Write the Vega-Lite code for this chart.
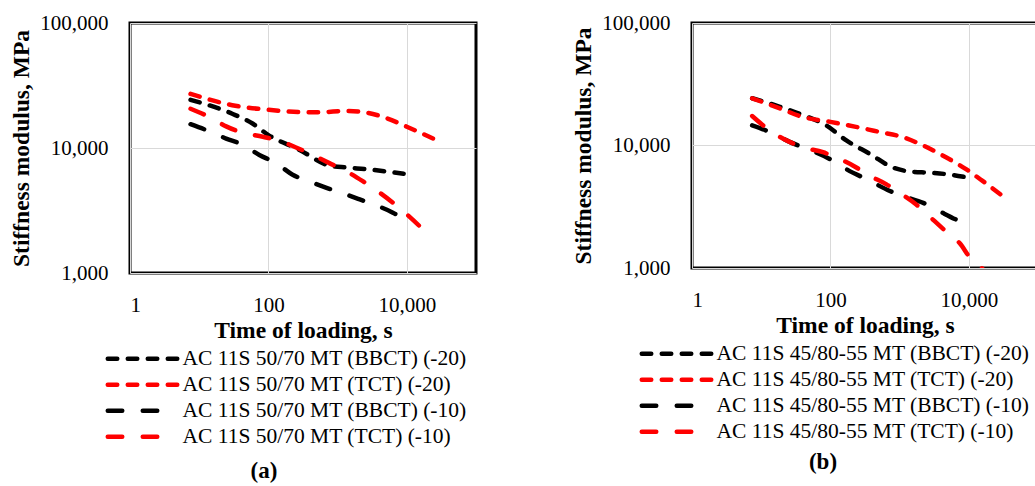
{
  "$schema": "https://vega.github.io/schema/vega-lite/v6.json",
  "padding": {"left": 8, "top": 10, "right": 0, "bottom": 0},
  "spacing": 92,
  "config": {
    "font": "Liberation Serif",
    "view": {"stroke": "black", "strokeWidth": 3},
    "axis": {
      "labelFont": "Liberation Serif", "labelFontSize": 21, "labelColor": "black",
      "titleFont": "Liberation Serif", "titleFontSize": 23.5, "titleFontWeight": "bold", "titleColor": "black",
      "ticks": false, "domain": false, "gridColor": "#d9d9d9", "gridWidth": 1
    },
    "axisX": {"labelPadding": 21, "titlePadding": 3},
    "axisY": {"labelPadding": 22, "titlePadding": 6},
    "legend": {
      "labelFont": "Liberation Serif", "labelFontSize": 21.5, "labelColor": "black", "labelLimit": 500,
      "symbolStrokeWidth": 4.5, "rowPadding": 3
    },
    "title": {"font": "Liberation Serif", "fontSize": 23, "fontWeight": "bold", "color": "black"}
  },
  "datasets": {
    "a": [
      {"s": "AC 11S 50/70 MT (BBCT) (-20)", "t": 7.5, "E": 24300},
      {"s": "AC 11S 50/70 MT (BBCT) (-20)", "t": 30, "E": 18800},
      {"s": "AC 11S 50/70 MT (BBCT) (-20)", "t": 59, "E": 15700},
      {"s": "AC 11S 50/70 MT (BBCT) (-20)", "t": 100, "E": 12700},
      {"s": "AC 11S 50/70 MT (BBCT) (-20)", "t": 282, "E": 9650},
      {"s": "AC 11S 50/70 MT (BBCT) (-20)", "t": 760, "E": 7240},
      {"s": "AC 11S 50/70 MT (BBCT) (-20)", "t": 1340, "E": 6980},
      {"s": "AC 11S 50/70 MT (BBCT) (-20)", "t": 2630, "E": 6770},
      {"s": "AC 11S 50/70 MT (BBCT) (-20)", "t": 9000, "E": 6220},
      {"s": "AC 11S 50/70 MT (TCT) (-20)", "t": 7.5, "E": 27100},
      {"s": "AC 11S 50/70 MT (TCT) (-20)", "t": 30, "E": 22000},
      {"s": "AC 11S 50/70 MT (TCT) (-20)", "t": 100, "E": 20200},
      {"s": "AC 11S 50/70 MT (TCT) (-20)", "t": 282, "E": 19400},
      {"s": "AC 11S 50/70 MT (TCT) (-20)", "t": 550, "E": 19300},
      {"s": "AC 11S 50/70 MT (TCT) (-20)", "t": 1340, "E": 19800},
      {"s": "AC 11S 50/70 MT (TCT) (-20)", "t": 2600, "E": 19200},
      {"s": "AC 11S 50/70 MT (TCT) (-20)", "t": 4570, "E": 17700},
      {"s": "AC 11S 50/70 MT (TCT) (-20)", "t": 10000, "E": 14800},
      {"s": "AC 11S 50/70 MT (TCT) (-20)", "t": 24000, "E": 11900},
      {"s": "AC 11S 50/70 MT (BBCT) (-10)", "t": 7.5, "E": 15500},
      {"s": "AC 11S 50/70 MT (BBCT) (-10)", "t": 14, "E": 13600},
      {"s": "AC 11S 50/70 MT (BBCT) (-10)", "t": 24.5, "E": 11900},
      {"s": "AC 11S 50/70 MT (BBCT) (-10)", "t": 43, "E": 10600},
      {"s": "AC 11S 50/70 MT (BBCT) (-10)", "t": 74, "E": 8800},
      {"s": "AC 11S 50/70 MT (BBCT) (-10)", "t": 129, "E": 7570},
      {"s": "AC 11S 50/70 MT (BBCT) (-10)", "t": 224, "E": 6110},
      {"s": "AC 11S 50/70 MT (BBCT) (-10)", "t": 389, "E": 5400},
      {"s": "AC 11S 50/70 MT (BBCT) (-10)", "t": 692, "E": 4800},
      {"s": "AC 11S 50/70 MT (BBCT) (-10)", "t": 1200, "E": 4330},
      {"s": "AC 11S 50/70 MT (BBCT) (-10)", "t": 2090, "E": 3880},
      {"s": "AC 11S 50/70 MT (BBCT) (-10)", "t": 3630, "E": 3470},
      {"s": "AC 11S 50/70 MT (BBCT) (-10)", "t": 6300, "E": 3040},
      {"s": "AC 11S 50/70 MT (BBCT) (-10)", "t": 10000, "E": 2610},
      {"s": "AC 11S 50/70 MT (TCT) (-10)", "t": 7.5, "E": 20600},
      {"s": "AC 11S 50/70 MT (TCT) (-10)", "t": 14, "E": 17700},
      {"s": "AC 11S 50/70 MT (TCT) (-10)", "t": 24.5, "E": 14900},
      {"s": "AC 11S 50/70 MT (TCT) (-10)", "t": 38, "E": 13500},
      {"s": "AC 11S 50/70 MT (TCT) (-10)", "t": 83, "E": 12300},
      {"s": "AC 11S 50/70 MT (TCT) (-10)", "t": 145, "E": 11400},
      {"s": "AC 11S 50/70 MT (TCT) (-10)", "t": 251, "E": 10100},
      {"s": "AC 11S 50/70 MT (TCT) (-10)", "t": 437, "E": 8800},
      {"s": "AC 11S 50/70 MT (TCT) (-10)", "t": 760, "E": 7570},
      {"s": "AC 11S 50/70 MT (TCT) (-10)", "t": 1350, "E": 6500},
      {"s": "AC 11S 50/70 MT (TCT) (-10)", "t": 2340, "E": 5400},
      {"s": "AC 11S 50/70 MT (TCT) (-10)", "t": 3800, "E": 4510},
      {"s": "AC 11S 50/70 MT (TCT) (-10)", "t": 6300, "E": 3650},
      {"s": "AC 11S 50/70 MT (TCT) (-10)", "t": 10000, "E": 2950},
      {"s": "AC 11S 50/70 MT (TCT) (-10)", "t": 24000, "E": 1850}
    ],
    "b": [
      {"s": "AC 11S 45/80-55 MT (BBCT) (-20)", "t": 7.4, "E": 24300},
      {"s": "AC 11S 45/80-55 MT (BBCT) (-20)", "t": 18.6, "E": 20700},
      {"s": "AC 11S 45/80-55 MT (BBCT) (-20)", "t": 40, "E": 17700},
      {"s": "AC 11S 45/80-55 MT (BBCT) (-20)", "t": 87, "E": 14600},
      {"s": "AC 11S 45/80-55 MT (BBCT) (-20)", "t": 170, "E": 11000},
      {"s": "AC 11S 45/80-55 MT (BBCT) (-20)", "t": 372, "E": 8540},
      {"s": "AC 11S 45/80-55 MT (BBCT) (-20)", "t": 794, "E": 6620},
      {"s": "AC 11S 45/80-55 MT (BBCT) (-20)", "t": 1380, "E": 6140},
      {"s": "AC 11S 45/80-55 MT (BBCT) (-20)", "t": 2690, "E": 5990},
      {"s": "AC 11S 45/80-55 MT (BBCT) (-20)", "t": 4680, "E": 5840},
      {"s": "AC 11S 45/80-55 MT (BBCT) (-20)", "t": 8500, "E": 5550},
      {"s": "AC 11S 45/80-55 MT (TCT) (-20)", "t": 7.4, "E": 24300},
      {"s": "AC 11S 45/80-55 MT (TCT) (-20)", "t": 18.6, "E": 20100},
      {"s": "AC 11S 45/80-55 MT (TCT) (-20)", "t": 40, "E": 17100},
      {"s": "AC 11S 45/80-55 MT (TCT) (-20)", "t": 100, "E": 15600},
      {"s": "AC 11S 45/80-55 MT (TCT) (-20)", "t": 234, "E": 14200},
      {"s": "AC 11S 45/80-55 MT (TCT) (-20)", "t": 513, "E": 12900},
      {"s": "AC 11S 45/80-55 MT (TCT) (-20)", "t": 1120, "E": 11700},
      {"s": "AC 11S 45/80-55 MT (TCT) (-20)", "t": 2190, "E": 10000},
      {"s": "AC 11S 45/80-55 MT (TCT) (-20)", "t": 4680, "E": 8010},
      {"s": "AC 11S 45/80-55 MT (TCT) (-20)", "t": 9120, "E": 6410},
      {"s": "AC 11S 45/80-55 MT (TCT) (-20)", "t": 15800, "E": 5140},
      {"s": "AC 11S 45/80-55 MT (TCT) (-20)", "t": 29500, "E": 3940},
      {"s": "AC 11S 45/80-55 MT (BBCT) (-10)", "t": 7.4, "E": 14600},
      {"s": "AC 11S 45/80-55 MT (BBCT) (-10)", "t": 13.2, "E": 12900},
      {"s": "AC 11S 45/80-55 MT (BBCT) (-10)", "t": 25.7, "E": 10700},
      {"s": "AC 11S 45/80-55 MT (BBCT) (-10)", "t": 40, "E": 9680},
      {"s": "AC 11S 45/80-55 MT (BBCT) (-10)", "t": 98, "E": 7760},
      {"s": "AC 11S 45/80-55 MT (BBCT) (-10)", "t": 170, "E": 6410},
      {"s": "AC 11S 45/80-55 MT (BBCT) (-10)", "t": 372, "E": 5140},
      {"s": "AC 11S 45/80-55 MT (BBCT) (-10)", "t": 724, "E": 4250},
      {"s": "AC 11S 45/80-55 MT (BBCT) (-10)", "t": 1120, "E": 3860},
      {"s": "AC 11S 45/80-55 MT (BBCT) (-10)", "t": 2190, "E": 3400},
      {"s": "AC 11S 45/80-55 MT (BBCT) (-10)", "t": 3800, "E": 2900},
      {"s": "AC 11S 45/80-55 MT (BBCT) (-10)", "t": 6600, "E": 2480},
      {"s": "AC 11S 45/80-55 MT (BBCT) (-10)", "t": 10200, "E": 2220},
      {"s": "AC 11S 45/80-55 MT (TCT) (-10)", "t": 7.4, "E": 17400},
      {"s": "AC 11S 45/80-55 MT (TCT) (-10)", "t": 13.2, "E": 13300},
      {"s": "AC 11S 45/80-55 MT (TCT) (-10)", "t": 25.7, "E": 10700},
      {"s": "AC 11S 45/80-55 MT (TCT) (-10)", "t": 40, "E": 9680},
      {"s": "AC 11S 45/80-55 MT (TCT) (-10)", "t": 78, "E": 8810},
      {"s": "AC 11S 45/80-55 MT (TCT) (-10)", "t": 120, "E": 8010},
      {"s": "AC 11S 45/80-55 MT (TCT) (-10)", "t": 214, "E": 6840},
      {"s": "AC 11S 45/80-55 MT (TCT) (-10)", "t": 372, "E": 5650},
      {"s": "AC 11S 45/80-55 MT (TCT) (-10)", "t": 646, "E": 4820},
      {"s": "AC 11S 45/80-55 MT (TCT) (-10)", "t": 1000, "E": 4110},
      {"s": "AC 11S 45/80-55 MT (TCT) (-10)", "t": 1740, "E": 3300},
      {"s": "AC 11S 45/80-55 MT (TCT) (-10)", "t": 2690, "E": 2640},
      {"s": "AC 11S 45/80-55 MT (TCT) (-10)", "t": 4680, "E": 1990},
      {"s": "AC 11S 45/80-55 MT (TCT) (-10)", "t": 7410, "E": 1590},
      {"s": "AC 11S 45/80-55 MT (TCT) (-10)", "t": 10700, "E": 1190},
      {"s": "AC 11S 45/80-55 MT (TCT) (-10)", "t": 15800, "E": 985},
      {"s": "AC 11S 45/80-55 MT (TCT) (-10)", "t": 29500, "E": 700}
    ]
  },
  "hconcat": [
    {
      "width": 346, "height": 250,
      "data": {"name": "a"},
      "title": {"text": "(a)", "orient": "bottom", "dx": -39, "offset": 12},
      "mark": {"type": "line", "interpolate": "monotone", "strokeWidth": 4.5, "strokeCap": "round", "clip": true},
      "encoding": {
        "x": {"field": "t", "type": "quantitative", "scale": {"type": "log", "domain": [1, 100000], "nice": false},
              "axis": {"values": [1, 100, 10000], "format": ",", "title": "Time of loading, s"}},
        "y": {"field": "E", "type": "quantitative", "scale": {"type": "log", "domain": [1000, 100000], "nice": false},
              "axis": {"values": [1000, 10000, 100000], "format": ",", "title": "Stiffness modulus, MPa"}},
        "color": {"field": "s", "type": "nominal",
          "scale": {"domain": ["AC 11S 50/70 MT (BBCT) (-20)", "AC 11S 50/70 MT (TCT) (-20)", "AC 11S 50/70 MT (BBCT) (-10)", "AC 11S 50/70 MT (TCT) (-10)"],
                    "range": ["#000000", "#ff0000", "#000000", "#ff0000"]},
          "legend": {"title": null, "orient": "none", "legendX": -28, "legendY": 325, "symbolType": "M-1,0H13", "symbolSize": 100, "labelOffset": 59,
                     "encode": {"symbols": {"update": {"strokeCap": {"value": "round"}, "fill": {"value": "transparent"}}}}}},
        "strokeDash": {"field": "s", "type": "nominal",
          "scale": {"domain": ["AC 11S 50/70 MT (BBCT) (-20)", "AC 11S 50/70 MT (TCT) (-20)", "AC 11S 50/70 MT (BBCT) (-10)", "AC 11S 50/70 MT (TCT) (-10)"],
                    "range": [[9.5, 10.5], [9.5, 10.5], [14.5, 20.5], [14.5, 20.5]]},
          "legend": {"title": null, "orient": "none", "legendX": -28, "legendY": 325, "symbolType": "M-1,0H13", "symbolSize": 100, "labelOffset": 59,
                     "encode": {"symbols": {"update": {"strokeCap": {"value": "round"}, "fill": {"value": "transparent"}}}}}}
      }
    },
    {
      "width": 346, "height": 245,
      "data": {"name": "b"},
      "title": {"text": "(b)", "orient": "bottom", "dx": -42, "offset": 8},
      "mark": {"type": "line", "interpolate": "monotone", "strokeWidth": 4.5, "strokeCap": "round", "clip": true},
      "encoding": {
        "x": {"field": "t", "type": "quantitative", "scale": {"type": "log", "domain": [1, 100000], "nice": false},
              "axis": {"values": [1, 100, 10000], "format": ",", "title": "Time of loading, s"}},
        "y": {"field": "E", "type": "quantitative", "scale": {"type": "log", "domain": [1000, 100000], "nice": false},
              "axis": {"values": [1000, 10000, 100000], "format": ",", "title": "Stiffness modulus, MPa"}},
        "color": {"field": "s", "type": "nominal",
          "scale": {"domain": ["AC 11S 45/80-55 MT (BBCT) (-20)", "AC 11S 45/80-55 MT (TCT) (-20)", "AC 11S 45/80-55 MT (BBCT) (-10)", "AC 11S 45/80-55 MT (TCT) (-10)"],
                    "range": ["#000000", "#ff0000", "#000000", "#ff0000"]},
          "legend": {"title": null, "orient": "none", "legendX": -56, "legendY": 320, "symbolType": "M-1,0H13", "symbolSize": 100, "labelOffset": 59,
                     "encode": {"symbols": {"update": {"strokeCap": {"value": "round"}, "fill": {"value": "transparent"}}}}}},
        "strokeDash": {"field": "s", "type": "nominal",
          "scale": {"domain": ["AC 11S 45/80-55 MT (BBCT) (-20)", "AC 11S 45/80-55 MT (TCT) (-20)", "AC 11S 45/80-55 MT (BBCT) (-10)", "AC 11S 45/80-55 MT (TCT) (-10)"],
                    "range": [[9.5, 10.5], [9.5, 10.5], [14.5, 20.5], [14.5, 20.5]]},
          "legend": {"title": null, "orient": "none", "legendX": -56, "legendY": 320, "symbolType": "M-1,0H13", "symbolSize": 100, "labelOffset": 59,
                     "encode": {"symbols": {"update": {"strokeCap": {"value": "round"}, "fill": {"value": "transparent"}}}}}}
      }
    }
  ],
  "resolve": {"scale": {"color": "independent", "strokeDash": "independent"}, "legend": {"color": "independent", "strokeDash": "independent"}}
}
